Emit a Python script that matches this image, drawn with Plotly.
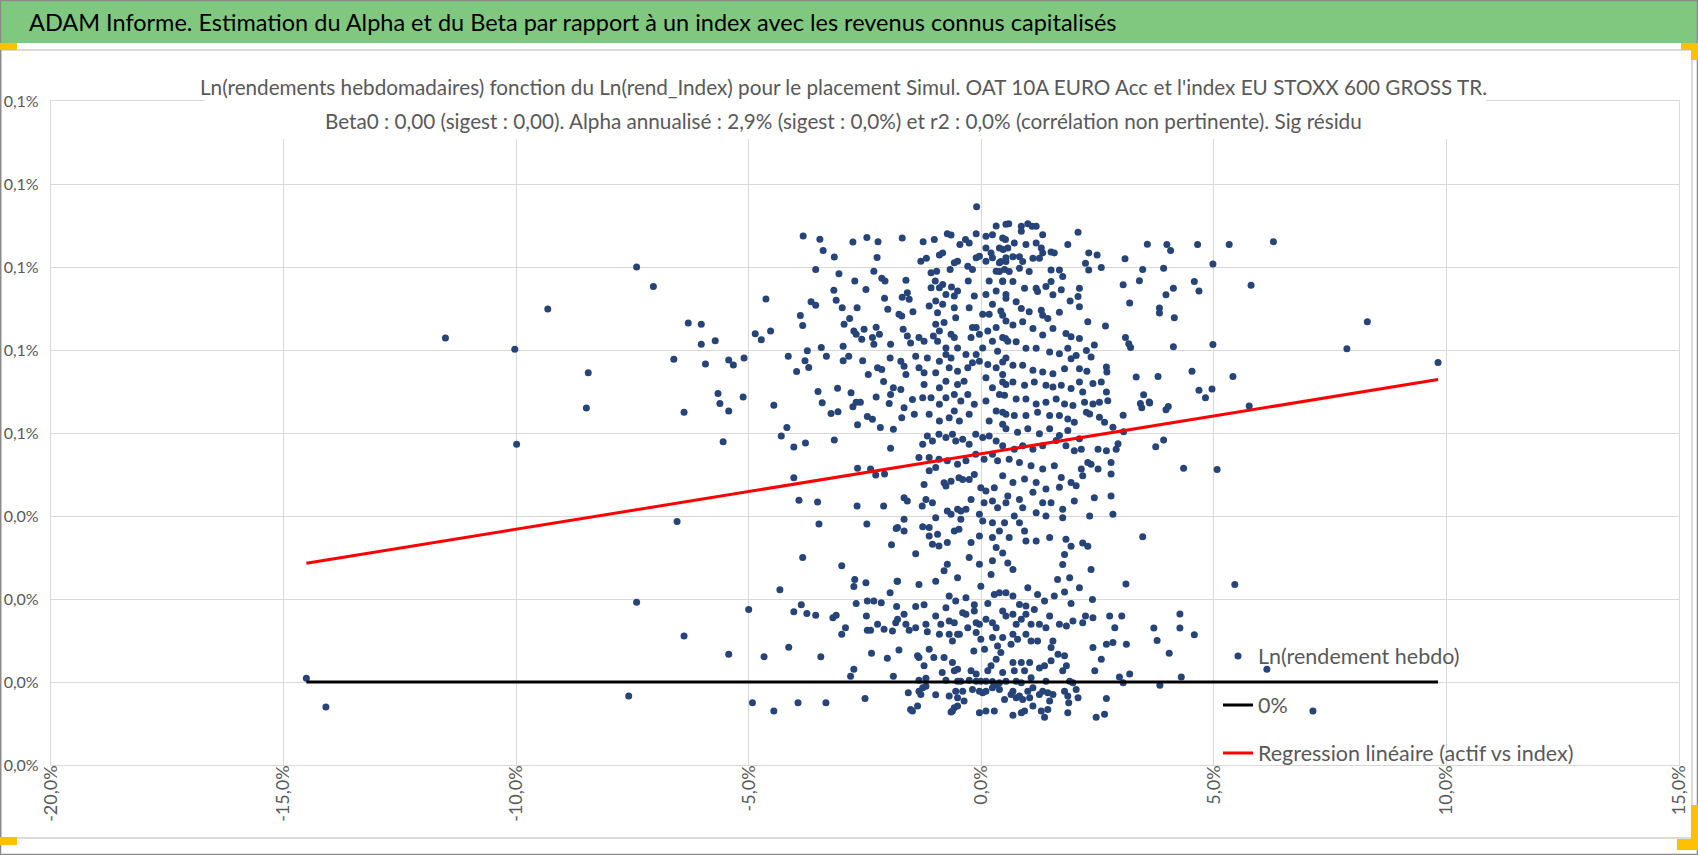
import plotly.graph_objects as go
import numpy as np

# ---------------- DATA (values in %) ----------------
# (x = Ln(rend_Index) in %, y = Ln(rendement hebdo) in %)
LEFT_PTS = [
    (-14.51, 0.0009), (-14.09, -0.0060), (-11.52, 0.0829), (-10.03, 0.0802), (-9.99, 0.0573),
    (-9.32, 0.0899), (-8.45, 0.0745), (-8.49, 0.0660), (-7.41, 0.1000), (-7.05, 0.0953),
    (-6.30, 0.0865), (-6.61, 0.0778), (-6.39, 0.0650), (-6.54, 0.0387), (-7.41, 0.0192),
    (-6.39, 0.0111), (-7.58, -0.0034),
    (-6.02, 0.0862), (-6.02, 0.0814), (-5.72, 0.0822), (-5.93, 0.0766), (-5.43, 0.0776),
    (-5.33, 0.0764), (-5.10, 0.0781), (-5.66, 0.0695), (-5.62, 0.0671), (-5.43, 0.0653),
    (-5.12, 0.0687), (-5.55, 0.0579), (-4.63, 0.0923), (-4.86, 0.0839), (-4.73, 0.0825),
    (-4.53, 0.0846), (-4.46, 0.0667), (-4.15, 0.0785), (-3.97, 0.0748), (-4.30, 0.0593),
    (-4.18, 0.0613), (-4.03, 0.0566), (-4.03, 0.0492), (-3.92, 0.0438), (-3.78, 0.0576),
    (-3.89, 0.0883), (-3.84, 0.0859), (-3.83, 0.1075), (-3.47, 0.1067), (-3.40, 0.1040),
    (-3.56, 0.0994), (-3.66, 0.0916), (-3.56, 0.0908), (-3.74, 0.0798), (-3.79, 0.0774),
    (-3.71, 0.0758), (-3.44, 0.0806), (-3.33, 0.0785), (-3.51, 0.0700), (-3.42, 0.0673),
    (-3.23, 0.0647), (-3.08, 0.0651), (-3.09, 0.0708), (-3.17, 0.0944), (-3.12, 0.0920),
    (-3.16, 0.1024), (-3.16, 0.0583), (-3.52, 0.0434), (-3.49, 0.0381), (-3.84, 0.0300),
    (-4.33, 0.0222), (-5.00, 0.0175), (-4.03, 0.0169), (-3.87, 0.0186), (-3.75, 0.0165),
    (-3.56, 0.0161), (-3.19, 0.0155), (-3.12, 0.0161), (-5.43, 0.0067), (-4.67, 0.0061),
    (-4.14, 0.0084), (-3.45, 0.0061), (-4.92, -0.0050), (-4.46, -0.0070), (-3.94, -0.0050),
    (-3.34, -0.0050),
]

MID_LEFT_PTS = [
    (-3.06, 0.0984), (-2.99, 0.0902), (-2.95, 0.0862), (-2.83, 0.0876), (-2.97, 0.0809),
    (-2.97, 0.0774), (-2.85, 0.0785), (-2.80, 0.0697), (-2.76, 0.0663), (-2.69, 0.0674),
    (-2.60, 0.0674), (-2.66, 0.0620), (-2.76, 0.1060), (-2.46, 0.1071), (-2.22, 0.1061),
    (-2.24, 0.1023), (-2.31, 0.0990), (-2.14, 0.0973), (-2.72, 0.0966), (-2.48, 0.0946),
    (-2.67, 0.0902), (-2.74, 0.0846), (-2.69, 0.0838), (-2.57, 0.0826), (-2.52, 0.0850),
    (-2.34, 0.0830), (-2.31, 0.0814), (-2.26, 0.0855), (-2.19, 0.0838), (-2.55, 0.0774),
    (-2.43, 0.0741), (-2.23, 0.0757), (-2.14, 0.0753), (-2.10, 0.0724), (-2.26, 0.0687),
    (-2.45, 0.0640), (-2.34, 0.0633), (-2.17, 0.0613), (-1.95, 0.0814), (-1.96, 0.0781),
    (-2.07, 0.0966), (-2.01, 0.0898), (-2.08, 0.0925), (-1.89, 0.0709), (-1.95, 0.0693),
    (-1.98, 0.0671), (-1.89, 0.0609),
    (-3.00, 0.0280), (-1.95, 0.0563), (-2.66, 0.0515), (-2.38, 0.0513), (-2.27, 0.0499),
    (-2.08, 0.0501), (-2.67, 0.0424), (-2.10, 0.0424), (-2.46, 0.0381), (-1.83, 0.0370),
    (-1.93, 0.0331), (-2.72, 0.0247), (-2.74, 0.0230), (-2.48, 0.0239), (-1.81, 0.0243),
]

CORE_UPPER_LEFT = [
    (-0.10, 0.1145), (-1.70, 0.1070), (-1.25, 0.1061), (-1.01, 0.1066), (-0.73, 0.1080),
    (-0.65, 0.1077), (-0.46, 0.1054), (-0.34, 0.1066), (-0.26, 0.1058), (-0.11, 0.1080),
    (0.10, 0.1074), (0.32, 0.1099), (0.53, 0.1103), (0.24, 0.1078), (0.46, 0.1070),
    (-1.62, 0.0968), (-1.70, 0.0927), (-1.59, 0.0938), (-1.55, 0.0922), (-1.77, 0.0886),
    (-1.71, 0.0882), (-1.47, 0.0892), (-1.68, 0.0850), (-1.59, 0.0834), (-1.52, 0.0817),
    (-1.34, 0.0830), (-1.23, 0.0821), (-1.73, 0.0773), (-1.66, 0.0761), (-1.62, 0.0741),
    (-1.41, 0.0785), (-1.34, 0.0757), (-1.16, 0.0781), (-1.23, 0.0745), (-1.73, 0.0705),
    (-1.48, 0.0681), (-1.66, 0.0661), (-1.44, 0.0645), (-1.23, 0.0717), (-1.26, 0.0685),
    (-1.08, 0.0685), (-1.12, 0.0645), (-0.90, 0.0669), (-1.71, 0.0637),
    (-1.30, 0.1014), (-1.18, 0.1021), (-1.08, 0.0986), (-0.96, 0.0990), (-0.90, 0.1029),
    (-0.83, 0.1034), (-0.67, 0.0994), (-0.58, 0.1010), (-0.51, 0.1014), (-0.99, 0.0966),
    (-0.90, 0.0950), (-1.08, 0.0950), (-0.83, 0.0958), (-0.76, 0.0934), (-0.64, 0.0952),
    (-0.58, 0.0930), (-0.51, 0.0942), (-1.12, 0.0906), (-0.98, 0.0918), (-0.94, 0.0890),
    (-0.83, 0.0910), (-0.58, 0.0902), (-0.55, 0.0878), (-0.80, 0.0866), (-0.98, 0.0862),
    (-1.03, 0.0834), (-0.90, 0.0846), (-0.94, 0.0821), (-0.76, 0.0805), (-0.65, 0.0838),
    (-0.58, 0.0830), (-0.51, 0.0805), (-0.76, 0.0789), (-0.65, 0.0781), (-0.90, 0.0773),
    (-0.98, 0.0745), (-0.69, 0.0757), (-0.51, 0.0749), (-0.29, 0.0757), (-0.37, 0.0725),
    (-0.51, 0.0717), (-0.76, 0.0725), (-0.90, 0.0709), (-0.76, 0.0685), (-0.58, 0.0693),
    (-0.44, 0.0677), (-0.29, 0.0693), (-0.58, 0.0653), (-0.69, 0.0637), (-0.90, 0.0629),
    (-0.47, 0.0629), (-0.26, 0.0645), (-0.15, 0.0669), (-0.29, 0.1002), (-0.19, 0.0994),
    (-0.11, 0.1022), (-0.04, 0.1026), (-0.28, 0.0966), (-0.15, 0.0930), (-0.26, 0.0902),
    (-0.19, 0.0854), (-0.11, 0.0854), (-0.04, 0.0838), (-0.22, 0.0830), (-0.33, 0.0789),
    (-0.11, 0.0789), (-0.19, 0.0769), (-0.04, 0.0773),
    (0.10, 0.1014), (0.24, 0.1022), (0.39, 0.1010), (0.53, 0.1022), (0.32, 0.0990),
    (0.17, 0.0966), (0.46, 0.0966), (0.32, 0.0942), (0.53, 0.0934), (0.10, 0.0934),
    (0.24, 0.0910), (0.42, 0.0894), (0.17, 0.0886), (0.53, 0.0870), (0.32, 0.0854),
    (0.14, 0.0846), (0.46, 0.0830), (0.24, 0.0821), (0.57, 0.0821), (0.03, 0.0805),
    (0.35, 0.0797), (0.53, 0.0781), (0.14, 0.0765), (0.32, 0.0757), (0.46, 0.0741),
    (0.10, 0.0733), (0.24, 0.0709), (0.53, 0.0717), (0.39, 0.0693), (0.10, 0.0677),
    (0.32, 0.0653), (0.53, 0.0645), (0.17, 0.0629), (0.46, 0.0621), (0.03, 0.0886),
    (0.39, 0.1046), (0.57, 0.1046), (0.10, 0.1046), (0.21, 0.1034), (0.50, 0.0994),
]

CORE_MIDDLE = [
    (-1.26, 0.0573), (-1.16, 0.0593), (-1.05, 0.0581), (-0.91, 0.0597), (-0.76, 0.0589),
    (-0.62, 0.0597), (-0.55, 0.0581), (-0.40, 0.0585), (-0.26, 0.0573), (-0.12, 0.0597),
    (0.03, 0.0589), (0.17, 0.0593), (0.32, 0.0581), (-1.34, 0.0541), (-1.12, 0.0541),
    (-0.91, 0.0537), (-0.73, 0.0533), (-0.51, 0.0525), (-0.33, 0.0533), (-0.12, 0.0549),
    (0.06, 0.0537), (0.24, 0.0549), (0.35, 0.0533), (-1.12, 0.0509), (-0.98, 0.0517),
    (-0.80, 0.0480), (-0.76, 0.0472), (-0.65, 0.0484), (-0.48, 0.0492), (-0.40, 0.0488),
    (-0.26, 0.0488), (-0.15, 0.0500), (-0.01, 0.0468), (0.10, 0.0460), (0.28, 0.0468),
    (-1.23, 0.0476), (-1.66, 0.0444), (-1.59, 0.0436), (-1.19, 0.0440), (-1.05, 0.0432),
    (-1.27, 0.0424), (-0.73, 0.0412), (-0.65, 0.0404), (-0.51, 0.0416), (-0.44, 0.0412),
    (-0.33, 0.0416), (-0.22, 0.0440), (-0.04, 0.0404), (0.06, 0.0432), (0.24, 0.0436),
    (0.35, 0.0420), (-1.66, 0.0392), (-1.80, 0.0372), (-1.66, 0.0364), (-1.26, 0.0374),
    (-1.12, 0.0372), (-0.98, 0.0396), (-1.12, 0.0352), (-0.94, 0.0356), (-0.91, 0.0328),
    (-1.05, 0.0332), (-0.73, 0.0336), (-0.58, 0.0364), (-0.48, 0.0368), (-0.44, 0.0392),
    (-0.22, 0.0336), (-0.04, 0.0352), (0.03, 0.0388), (0.24, 0.0348), (0.24, 0.0384),
    (0.39, 0.0364), (-1.41, 0.0309), (-0.73, 0.0284), (-0.80, 0.0268), (-0.51, 0.0251),
    (-0.26, 0.0300), (-0.04, 0.0284), (0.21, 0.0259), (0.24, 0.0292), (0.32, 0.0324),
    (-0.98, 0.0243), (-1.34, 0.0235), (-1.80, 0.0243), (-0.01, 0.0231),
]

CORE_UPPER_RIGHT = [
    (0.59, 0.1104), (0.86, 0.1098), (0.86, 0.1086), (1.00, 0.1104), (1.09, 0.1098),
    (1.18, 0.1098), (1.32, 0.1078), (2.08, 0.1084), (1.86, 0.1054), (0.52, 0.1066),
    (0.71, 0.1058), (0.96, 0.1054), (1.18, 0.1058), (1.29, 0.1046), (1.32, 0.1034),
    (1.50, 0.1036), (1.57, 0.1034), (0.47, 0.1042), (0.68, 0.1025), (0.82, 0.1025),
    (0.42, 0.1013), (0.53, 0.1013), (0.89, 0.1013), (1.11, 0.1021), (1.25, 0.1021),
    (0.39, 0.0989), (0.60, 0.0989), (0.82, 0.0997), (1.03, 0.0989), (1.50, 0.0993),
    (1.68, 0.0993), (1.75, 0.0977), (2.31, 0.1034), (2.49, 0.1029), (2.24, 0.1009),
    (2.31, 0.0993), (2.58, 0.0999), (0.46, 0.0965), (0.68, 0.0965), (0.93, 0.0949),
    (1.18, 0.0949), (1.21, 0.0941), (1.39, 0.0953), (1.50, 0.0965), (1.54, 0.0933),
    (1.72, 0.0945), (2.11, 0.0949), (2.08, 0.0929), (1.91, 0.0918), (2.11, 0.0904),
    (0.53, 0.0925), (0.75, 0.0916), (0.86, 0.0900), (1.03, 0.0892), (1.29, 0.0896),
    (1.32, 0.0884), (1.68, 0.0891), (1.43, 0.0876), (2.29, 0.0868), (2.67, 0.0858),
    (0.46, 0.0884), (0.68, 0.0860), (0.89, 0.0868), (1.11, 0.0852), (1.32, 0.0836),
    (1.54, 0.0852), (1.82, 0.0840), (1.93, 0.0832), (2.11, 0.0828), (2.43, 0.0812),
    (2.26, 0.0799), (2.36, 0.0783), (0.52, 0.0828), (0.75, 0.0820), (0.96, 0.0804),
    (1.18, 0.0804), (1.47, 0.0795), (1.68, 0.0791), (1.86, 0.0804), (1.93, 0.0779),
    (2.04, 0.0787), (2.69, 0.0759), (2.70, 0.0747), (0.46, 0.0771), (0.68, 0.0763),
    (0.89, 0.0763), (1.11, 0.0751), (1.32, 0.0747), (1.54, 0.0743), (1.79, 0.0755),
    (2.11, 0.0755), (2.27, 0.0749), (2.40, 0.0719), (2.58, 0.0723), (0.46, 0.0723),
    (0.68, 0.0723), (0.93, 0.0715), (1.14, 0.0723), (1.39, 0.0715), (1.54, 0.0711),
    (1.72, 0.0715), (1.93, 0.0707), (2.11, 0.0723), (2.18, 0.0699), (2.69, 0.0699),
    (2.72, 0.0678), (0.50, 0.0691), (0.75, 0.0682), (0.96, 0.0682), (1.18, 0.0670),
    (1.39, 0.0674), (1.61, 0.0682), (1.79, 0.0670), (1.97, 0.0666), (2.22, 0.0674),
    (2.40, 0.0670), (2.54, 0.0674), (0.46, 0.0650), (0.71, 0.0642), (0.96, 0.0642),
    (1.21, 0.0650), (1.47, 0.0642), (1.68, 0.0642), (1.86, 0.0634), (2.00, 0.0626),
    (2.26, 0.0650), (2.33, 0.0646), (2.54, 0.0638), (2.65, 0.0626), (2.83, 0.0614),
    (0.53, 0.0610), (0.78, 0.0602), (1.00, 0.0610), (1.25, 0.0598), (1.47, 0.0610),
    (1.68, 0.0594), (1.86, 0.0606), (2.11, 0.0586), (0.46, 0.0569), (0.71, 0.0561),
    (0.89, 0.0569), (1.11, 0.0561), (1.32, 0.0569), (1.61, 0.0582), (1.82, 0.0569),
    (2.00, 0.0557), (2.15, 0.0561), (2.51, 0.0561), (2.69, 0.0557), (2.94, 0.0574),
    (2.90, 0.0561), (0.60, 0.0537), (0.82, 0.0529), (1.07, 0.0521), (1.32, 0.0513),
    (1.57, 0.0521), (1.72, 0.0493), (1.93, 0.0481), (2.04, 0.0473), (2.15, 0.0513),
    (2.18, 0.0497), (2.29, 0.0529), (2.36, 0.0525), (2.51, 0.0513), (2.79, 0.0529),
    (2.79, 0.0501), (0.46, 0.0497), (0.68, 0.0481), (0.93, 0.0489), (1.18, 0.0481),
    (1.39, 0.0465), (1.68, 0.0469), (1.11, 0.0457), (0.57, 0.0448), (0.82, 0.0440),
    (0.53, 0.0432), (0.89, 0.0420), (1.32, 0.0432), (1.50, 0.0432), (1.75, 0.0416),
    (2.00, 0.0436), (2.43, 0.0444), (2.79, 0.0448), (2.83, 0.0404), (2.33, 0.0400),
    (1.75, 0.0396), (1.39, 0.0400), (1.18, 0.0408), (0.71, 0.0400), (0.50, 0.0384),
    (0.82, 0.0384), (0.93, 0.0364), (0.60, 0.0348), (0.96, 0.0340), (1.18, 0.0340),
    (1.47, 0.0348), (1.82, 0.0344), (1.93, 0.0327), (2.18, 0.0335), (2.29, 0.0327),
    (0.46, 0.0311), (0.57, 0.0287), (0.68, 0.0271), (1.79, 0.0307), (1.75, 0.0283),
    (2.36, 0.0271), (1.90, 0.0251), (1.64, 0.0247), (2.11, 0.0227), (1.00, 0.0227),
]

LOWER_BAND = [
    (-1.96, 0.0215), (-2.69, 0.0189), (-2.45, 0.0195), (-2.31, 0.0195), (-2.15, 0.0191),
    (-1.82, 0.0182), (-1.41, 0.0182), (-1.23, 0.0186), (-0.76, 0.0179), (-0.69, 0.0207),
    (-0.55, 0.0195), (-0.33, 0.0203), (-0.15, 0.0186), (0.14, 0.0189), (0.28, 0.0211),
    (0.39, 0.0215), (0.53, 0.0215), (0.68, 0.0207), (0.82, 0.0187), (0.96, 0.0183),
    (1.21, 0.0211), (1.36, 0.0195), (1.57, 0.0207), (1.79, 0.0217), (1.93, 0.0189),
    (2.39, 0.0199), (-2.47, 0.0159), (-2.23, 0.0139), (-2.09, 0.0127), (-2.45, 0.0125),
    (-2.38, 0.0125), (-1.91, 0.0123), (-1.84, 0.0143), (-1.80, 0.0151), (-1.66, 0.0163),
    (-1.62, 0.0139), (-1.55, 0.0125), (-1.41, 0.0131), (-1.19, 0.0139), (-1.16, 0.0121),
    (-0.98, 0.0159), (-0.90, 0.0115), (-0.87, 0.0139), (-0.69, 0.0147), (-0.58, 0.0143),
    (-0.51, 0.0115), (-0.40, 0.0167), (-0.33, 0.0163), (-0.29, 0.0131), (-0.15, 0.0171),
    (-0.11, 0.0143), (-0.04, 0.0139), (0.10, 0.0151), (0.24, 0.0143), (0.32, 0.0131),
    (0.46, 0.0171), (0.53, 0.0159), (0.68, 0.0163), (0.75, 0.0139), (0.86, 0.0151),
    (0.96, 0.0163), (1.07, 0.0139), (1.14, 0.0175), (1.25, 0.0139), (1.39, 0.0131),
    (1.47, 0.0159), (1.68, 0.0139), (1.83, 0.0135), (1.97, 0.0147), (2.18, 0.0143),
    (2.24, 0.0159), (2.40, 0.0155), (2.76, 0.0159), (2.87, 0.0131), (3.02, 0.0159),
    (-2.92, 0.0131), (-3.00, 0.0115),
    (-2.36, 0.0069), (-2.02, 0.0057), (-1.77, 0.0077), (-1.37, 0.0063), (-1.12, 0.0079),
    (-0.69, 0.0115), (-0.62, 0.0099), (-0.47, 0.0115), (-0.11, 0.0119), (-0.01, 0.0103),
    (0.07, 0.0079), (0.24, 0.0107), (0.35, 0.0087), (0.42, 0.0071), (0.46, 0.0107),
    (0.64, 0.0091), (0.68, 0.0115), (0.78, 0.0103), (0.96, 0.0115), (1.07, 0.0099),
    (1.21, 0.0099), (1.50, 0.0083), (1.54, 0.0099), (1.65, 0.0067), (1.79, 0.0063),
    (2.40, 0.0083), (2.69, 0.0091), (2.83, 0.0095), (3.12, 0.0091), (-0.16, 0.0075),
    (-2.74, 0.0031), (-2.81, 0.0014), (-1.89, 0.0014), (-1.34, 0.0059), (-1.23, 0.0039),
    (-1.02, 0.0059), (-0.84, 0.0023), (-0.80, 0.0059), (-0.62, 0.0047), (-0.58, 0.0027),
    (-0.51, 0.0031), (-0.22, 0.0027), (-0.11, 0.0019), (0.14, 0.0027), (0.21, 0.0039),
    (0.32, 0.0055), (0.46, 0.0023), (0.68, 0.0047), (0.71, 0.0027), (0.86, 0.0047),
    (0.93, 0.0027), (1.04, 0.0047), (1.25, 0.0034), (1.36, 0.0039), (1.50, 0.0051),
    (1.75, 0.0027), (1.83, 0.0039), (2.58, 0.0055), (2.44, 0.0027), (2.97, 0.0012),
    (3.19, 0.0019),
    (-1.34, 0.0004), (-1.19, 0.0009), (-0.76, 0.0004), (-0.51, 0.0002), (-0.44, 0.0002),
    (-0.26, 0.0004), (-0.11, 0.0002), (-0.01, 0.0002), (0.10, 0.0002), (0.24, 0.0001),
    (0.32, -0.0006), (0.39, -0.0002), (0.53, 0.0002), (0.75, 0.0002), (0.86, -0.0002),
    (1.07, 0.0010), (1.39, 0.0002), (1.90, 0.0002), (1.97, -0.0002), (3.05, -0.0002),
    (-1.26, -0.0014), (-1.19, -0.0010),
    (-2.50, -0.0040), (-1.57, -0.0026), (-1.34, -0.0022), (-1.30, -0.0030), (-0.98, -0.0031),
    (-0.69, -0.0034), (-0.55, -0.0022), (-0.51, -0.0038), (-0.40, -0.0022), (-0.37, -0.0046),
    (-0.19, -0.0018), (-0.04, -0.0022), (0.03, -0.0026), (0.10, -0.0022), (0.24, -0.0014),
    (0.39, -0.0018), (0.50, -0.0042), (0.64, -0.0030), (0.68, -0.0022), (0.75, -0.0038),
    (0.82, -0.0034), (0.89, -0.0042), (1.00, -0.0022), (1.04, -0.0038), (1.11, -0.0014),
    (1.25, -0.0030), (1.32, -0.0022), (1.43, -0.0026), (1.47, -0.0046), (1.54, -0.0030),
    (1.79, -0.0022), (1.86, -0.0034), (2.04, -0.0018), (2.08, -0.0038), (2.69, -0.0040),
    (1.88, -0.0050),
    (-1.52, -0.0066), (-1.48, -0.0070), (-1.37, -0.0058), (-0.62, -0.0070), (-0.58, -0.0062),
    (-0.51, -0.0058), (-0.04, -0.0074), (0.10, -0.0070), (0.28, -0.0070), (0.68, -0.0080),
    (0.86, -0.0074), (0.93, -0.0070), (1.11, -0.0058), (1.29, -0.0070), (1.43, -0.0066),
    (1.36, -0.0085), (1.86, -0.0074), (2.47, -0.0085), (2.65, -0.0078), (-0.65, -0.0072),
]

RIGHT_PTS = [
    (3.09, 0.1020), (3.57, 0.1055), (3.47, 0.0994), (3.05, 0.0957), (3.40, 0.0967),
    (3.19, 0.0913), (3.10, 0.0830), (3.17, 0.0815), (3.21, 0.0806), (3.33, 0.0735),
    (3.49, 0.0692), (3.42, 0.0671), (3.45, 0.0661), (3.61, 0.0675), (3.05, 0.0643),
    (3.06, 0.0603), (3.47, 0.0350), (3.11, 0.0236),
    (6.28, 0.1061), (5.33, 0.1054), (4.65, 0.1054), (3.99, 0.1054), (4.07, 0.1040),
    (4.98, 0.1007), (3.92, 0.0997), (5.80, 0.0956), (4.58, 0.0965), (4.68, 0.0942),
    (4.13, 0.0949), (3.97, 0.0933), (3.83, 0.0901), (3.83, 0.0889), (4.15, 0.0878),
    (8.30, 0.0868), (7.86, 0.0803), (9.82, 0.0770), (4.13, 0.0808), (4.98, 0.0813),
    (3.80, 0.0736), (4.53, 0.0749), (5.41, 0.0736), (4.68, 0.0703), (4.96, 0.0706),
    (4.82, 0.0685), (3.62, 0.0672), (3.97, 0.0656), (4.02, 0.0664), (5.76, 0.0665),
    (3.92, 0.0583), (3.75, 0.0567), (4.35, 0.0515), (5.07, 0.0512), (5.45, 0.0235),
    (4.27, 0.0164), (3.71, 0.0130), (4.27, 0.0130), (4.58, 0.0114), (3.78, 0.0100),
    (4.04, 0.0069), (4.30, 0.0012), (3.84, -0.0008), (6.14, 0.0031), (7.13, -0.0070),
]

# Regression results (weekly, fractions) and reference level
REG_ALPHA_WEEKLY = 0.000550
REG_BETA = 0.00182
ZERO_LEVEL = 0.0

X_TICKS_PCT = [-20, -15, -10, -5, 0, 5, 10, 15]
Y_TICKS_PCT = [-0.02, 0.0, 0.02, 0.04, 0.06, 0.08, 0.10, 0.12, 0.14]

SERIES_NAMES = ["Ln(rendement hebdo)", "0%", "Regression linéaire (actif vs index)"]
TITLE = "ADAM Informe. Estimation du Alpha et du Beta par rapport à un index avec les revenus connus capitalisés"
SUB1 = "Ln(rendements hebdomadaires) fonction du Ln(rend_Index) pour le placement Simul. OAT 10A EURO Acc et l'index EU STOXX 600 GROSS TR."
SUB2 = "Beta0 : 0,00 (sigest : 0,00). Alpha annualisé : 2,9% (sigest : 0,0%) et r2 : 0,0% (corrélation non pertinente). Sig résidu"

# ---------------- BUILD ----------------
all_pts = LEFT_PTS + MID_LEFT_PTS + CORE_UPPER_LEFT + CORE_MIDDLE + CORE_UPPER_RIGHT + LOWER_BAND + RIGHT_PTS
xs = np.array([p[0] for p in all_pts]) / 100.0
ys = np.array([p[1] for p in all_pts]) / 100.0

x_line = np.array([xs.min(), xs.max()])
y_reg = REG_ALPHA_WEEKLY + REG_BETA * x_line
y_zero = np.full(2, ZERO_LEVEL)

W, H = 1698, 855
PL, PR, PT, PB = 51, 1679, 101, 765
FONT = "Lato, sans-serif"
GRAY_TXT = "#595959"
GRID = "#d9d9d9"


def pxx(v):
    return (v - PL) / (PR - PL)


def pxy(v):
    return (PB - v) / (PB - PT)


fig = go.Figure()
fig.add_trace(go.Scatter(
    x=xs, y=ys, mode="markers", name=SERIES_NAMES[0],
    marker=dict(color="#264478", size=7, line=dict(width=0)),
    legend="legend", hoverinfo="skip"))
fig.add_trace(go.Scatter(
    x=x_line, y=y_zero, mode="lines", name=SERIES_NAMES[1],
    line=dict(color="#000000", width=3), legend="legend2", hoverinfo="skip"))
fig.add_trace(go.Scatter(
    x=x_line, y=y_reg, mode="lines", name=SERIES_NAMES[2],
    line=dict(color="#ff0000", width=3), legend="legend3", hoverinfo="skip"))

x_tickvals = [v / 100 for v in X_TICKS_PCT]
x_ticktext = [("-" if v < 0 else "") + f"{abs(v):.1f}".replace(".", ",") + "%" for v in X_TICKS_PCT]
y_tickvals = [v / 100 for v in Y_TICKS_PCT]
y_ticktext = [f"{abs(v):.1f}".replace(".", ",") + "%" for v in Y_TICKS_PCT]

legend_common = dict(
    bgcolor="rgba(0,0,0,0)", borderwidth=0, xanchor="left", yanchor="middle",
    font=dict(family=FONT, size=21.5, color=GRAY_TXT), itemwidth=30,
)

fig.update_layout(
    template="none",
    width=W, height=H,
    margin=dict(l=PL, r=W - PR, t=PT, b=H - PB, pad=0),
    paper_bgcolor="white", plot_bgcolor="white",
    font=dict(family=FONT, color=GRAY_TXT),
    hovermode=False,
    showlegend=True,
    legend=dict(x=pxx(1218), y=pxy(656), **legend_common),
    legend2=dict(x=pxx(1218), y=pxy(705), **legend_common),
    legend3=dict(x=pxx(1218), y=pxy(753), **legend_common),
    xaxis=dict(
        range=[X_TICKS_PCT[0] / 100, X_TICKS_PCT[-1] / 100],
        tickvals=x_tickvals, ticktext=x_ticktext, tickangle=-90,
        showgrid=True, gridcolor=GRID, gridwidth=1.3, zeroline=False,
        showline=True, linecolor=GRID, linewidth=1.3, mirror=True,
        ticks="", automargin=False, ticklabelstandoff=-8,
        tickfont=dict(family=FONT, size=18, color=GRAY_TXT),
    ),
    yaxis=dict(
        range=[Y_TICKS_PCT[0] / 100, Y_TICKS_PCT[-1] / 100],
        tickvals=y_tickvals, ticktext=y_ticktext,
        showgrid=True, gridcolor=GRID, gridwidth=1.3, zeroline=False,
        showline=True, linecolor=GRID, linewidth=1.3, mirror=True,
        ticks="", automargin=False, ticklabelstandoff=8,
        tickfont=dict(family=FONT, size=16, color=GRAY_TXT),
    ),
)

shapes = []
# green title bar
shapes.append(dict(type="rect", xref="paper", yref="paper", layer="above",
                   x0=pxx(0), x1=pxx(W), y0=pxy(43), y1=pxy(1),
                   fillcolor="#80c87f", line=dict(width=0)))
# chart frame
shapes.append(dict(type="rect", xref="paper", yref="paper", layer="below",
                   x0=pxx(1), x1=pxx(1692), y0=pxy(838), y1=pxy(50),
                   fillcolor="rgba(0,0,0,0)", line=dict(color="#d0d0d0", width=1.5)))
# white box behind chart title
shapes.append(dict(type="rect", xref="paper", yref="paper", layer="above",
                   x0=pxx(205), x1=pxx(1486), y0=pxy(139), y1=pxy(62),
                   fillcolor="white", line=dict(width=0)))
# outer border
shapes.append(dict(type="rect", xref="paper", yref="paper", layer="above",
                   x0=pxx(0.5), x1=pxx(W - 0.5), y0=pxy(H - 0.5), y1=pxy(0.5),
                   fillcolor="rgba(0,0,0,0)", line=dict(color="#8a8a8a", width=1.5)))
# yellow selection handles
YEL = "#ffc000"
for (a, b, c, d) in [(0, 43, 17, 50), (0, 837, 17, 845), (1681, 43, 1698, 50), (1691, 43, 1698, 60),
                     (1691, 805, 1698, 850), (1677, 839, 1698, 850)]:
    shapes.append(dict(type="rect", xref="paper", yref="paper", layer="above",
                       x0=pxx(a), x1=pxx(c), y0=pxy(d), y1=pxy(b),
                       fillcolor=YEL, line=dict(width=0)))
fig.update_layout(shapes=shapes)

annotations = [
    dict(text=TITLE, xref="paper", yref="paper", x=pxx(27), y=pxy(22),
         xanchor="left", yanchor="middle", showarrow=False,
         font=dict(family=FONT, size=23.5, color="#000000")),
    dict(text=SUB1, xref="paper", yref="paper", x=pxx(843), y=pxy(87),
         xanchor="center", yanchor="middle", showarrow=False,
         font=dict(family=FONT, size=20.7, color=GRAY_TXT)),
    dict(text=SUB2, xref="paper", yref="paper", x=pxx(843), y=pxy(121),
         xanchor="center", yanchor="middle", showarrow=False,
         font=dict(family=FONT, size=20.7, color=GRAY_TXT)),
]
fig.update_layout(annotations=annotations)

fig.write_html("out.html", config={"displayModeBar": False},
               post_script="document.body.style.margin='0';document.body.style.overflow='hidden';")
